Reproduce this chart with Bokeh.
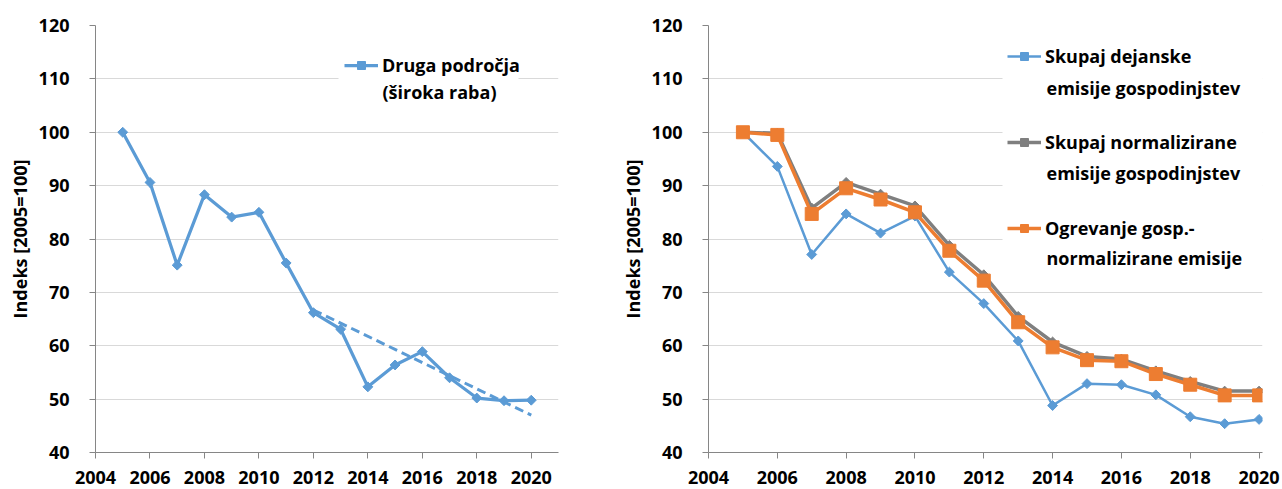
import math
from bokeh.plotting import figure
from bokeh.models import Range1d, FixedTicker, Legend, LegendItem, Label
from bokeh.layouts import row
from bokeh.embed import file_html
from bokeh.resources import INLINE

# ---------------- data ----------------
years = list(range(2005, 2021))
druga_podrocja = [100.0, 90.6, 75.1, 88.3, 84.1, 85.0, 75.5, 66.2, 63.1, 52.3, 56.4, 58.9, 54.0, 50.2, 49.7, 49.8]
trend_years = [2012, 2020]
trend_values = [66.7, 47.0]

dejanske = [100.0, 93.6, 77.1, 84.7, 81.1, 84.3, 73.8, 67.9, 60.9, 48.8, 52.9, 52.7, 50.8, 46.7, 45.4, 46.2]
normalizirane = [100.0, 99.8, 85.8, 90.6, 88.4, 86.2, 78.8, 73.3, 65.5, 60.7, 58.0, 57.5, 55.3, 53.3, 51.5, 51.5]
ogrevanje = [100.0, 99.5, 84.7, 89.5, 87.4, 85.0, 77.8, 72.2, 64.4, 59.7, 57.3, 57.1, 54.7, 52.7, 50.7, 50.7]

x_ticks = [2004, 2006, 2008, 2010, 2012, 2014, 2016, 2018, 2020]
y_ticks = [40, 50, 60, 70, 80, 90, 100, 110, 120]
y_label = "Indeks [2005=100]"
label_left = ["Druga področja", "(široka raba)"]
labels_right = [["Skupaj dejanske", "emisije gospodinjstev"],
                ["Skupaj normalizirane", "emisije gospodinjstev"],
                ["Ogrevanje gosp.-", "normalizirane emisije"]]

BLUE = "#5B9BD5"
GRAY = "#7F7F7F"
ORANGE = "#ED7D31"
FONT = "Open Sans"
FS = "18px"


def style(p):
    p.outline_line_color = None
    p.xgrid.grid_line_color = None
    p.ygrid.grid_line_color = "#D9D9D9"
    p.ygrid.grid_line_width = 1
    for ax in (p.xaxis[0], p.yaxis[0]):
        ax.axis_line_color = "#868686"
        ax.major_tick_line_color = "#868686"
        ax.major_tick_out = 6
        ax.major_tick_in = 0
        ax.minor_tick_line_color = None
        ax.major_label_text_font = FONT
        ax.major_label_text_font_style = "bold"
        ax.major_label_text_font_size = FS
        ax.major_label_text_color = "black"
    p.xaxis[0].ticker = FixedTicker(ticks=x_ticks)
    p.yaxis[0].ticker = FixedTicker(ticks=y_ticks)
    p.xaxis[0].major_label_standoff = 12
    p.yaxis[0].major_label_standoff = 20
    p.yaxis[0].axis_label = y_label
    p.yaxis[0].axis_label_text_font = FONT
    p.yaxis[0].axis_label_text_font_style = "bold"
    p.yaxis[0].axis_label_text_font_size = FS
    p.yaxis[0].axis_label_text_color = "black"
    p.yaxis[0].axis_label_standoff = 4


def style_legend(lg):
    lg.label_text_font = FONT
    lg.label_text_font_style = "bold"
    lg.label_text_font_size = FS
    lg.label_text_color = "black"
    lg.glyph_width = 34
    lg.glyph_height = 20
    lg.label_height = 20
    lg.label_standoff = 4
    lg.border_line_color = None
    lg.background_fill_alpha = 0.0
    lg.padding = 6
    lg.margin = 0


def second_line(p, text, sx, sy, pad):
    # second line of a legend entry; its white box hides the grid behind the legend.
    # (sx, sy) is where the text itself should sit; compensate for the box padding.
    x = sx - pad["left"]
    y = sy + (pad["top"] - pad["bottom"]) / 2
    p.add_layout(Label(x=x, y=y, x_units="screen", y_units="screen", text=text,
                       text_font=FONT, text_font_style="bold", text_font_size=FS,
                       text_color="black", text_baseline="middle", text_align="left",
                       background_fill_color="white", background_fill_alpha=1.0,
                       padding=pad))


# ---------------- left chart ----------------
p1 = figure(width=612, height=487, output_backend="svg", toolbar_location=None,
            x_range=Range1d(2004, 2021), y_range=Range1d(40, 120),
            min_border_left=95, min_border_right=54, min_border_top=25, min_border_bottom=35)
style(p1)
p1.line(trend_years, trend_values, line_color=BLUE, line_width=3, line_dash="9 5")
l1 = p1.line(years, druga_podrocja, line_color=BLUE, line_width=3.25)
m1 = p1.scatter(years, druga_podrocja, marker="square", angle=math.pi / 4, size=7,
                fill_color=BLUE, line_color=BLUE)
second_line(p1, label_left[1], 287, 361, dict(left=44, right=22, top=7, bottom=2))
lg1 = Legend(items=[LegendItem(label=label_left[0], renderers=[l1, m1])], location=(249, 375))
style_legend(lg1)
p1.add_layout(lg1, "center")

# ---------------- right chart ----------------
p2 = figure(width=668, height=487, output_backend="svg", toolbar_location=None,
            x_range=Range1d(2004, 2020.1), y_range=Range1d(40, 120),
            min_border_left=96, min_border_right=18, min_border_top=25, min_border_bottom=35)
style(p2)
lb = p2.line(years, dejanske, line_color=BLUE, line_width=2.5)
mb = p2.scatter(years, dejanske, marker="square", angle=math.pi / 4, size=7,
                fill_color=BLUE, line_color=BLUE)
lgr = p2.line(years, normalizirane, line_color=GRAY, line_width=3.5)
mgr = p2.scatter(years, normalizirane, marker="square", angle=math.pi / 4, size=7,
                 fill_color=GRAY, line_color=GRAY)
lo = p2.line(years, ogrevanje, line_color=ORANGE, line_width=3.5)
mo = p2.scatter(years, ogrevanje, marker="square", size=13,
                fill_color=ORANGE, line_color=ORANGE)
pads = [dict(left=44, right=26, top=6, bottom=36),
        dict(left=44, right=26, top=8, bottom=16),
        dict(left=44, right=26, top=12, bottom=3)]
for (first, second), sy, pad in zip(labels_right, [365, 280, 195], pads):
    second_line(p2, second, 338, sy, pad)
lg2 = Legend(items=[LegendItem(label=labels_right[0][0], renderers=[lb, mb]),
                    LegendItem(label=labels_right[1][0], renderers=[lgr, mgr]),
                    LegendItem(label=labels_right[2][0], renderers=[lo, mo])],
             location=(299, 212), spacing=62)
style_legend(lg2)
p2.add_layout(lg2, "center")

layout = row(p1, p2)
open("out.html", "w").write(file_html(layout, INLINE))
